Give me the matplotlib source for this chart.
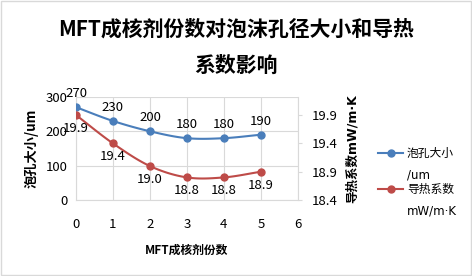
import numpy as np
import matplotlib
matplotlib.use("Agg")
import matplotlib.pyplot as plt
from matplotlib.lines import Line2D

plt.rcParams['font.family'] = ['Noto Sans CJK SC', 'DejaVu Sans']

# data
parts = [0, 1, 2, 3, 4, 5]
pore_size = [270, 230, 200, 180, 180, 190]
conductivity = [19.9, 19.4, 19.0, 18.8, 18.8, 18.9]
pore_labels = ["270", "230", "200", "180", "180", "190"]
cond_labels = ["19.9", "19.4", "19.0", "18.8", "18.8", "18.9"]
series_names = [("泡孔大小", "/um"), ("导热系数", "mW/m·K")]

blue = "#4a7ebb"
red = "#be4b48"
grid = "#d9d9d9"
latin_first = ['DejaVu Sans', 'Noto Sans CJK SC']


def smooth(x, y, n=20):
    # Catmull-Rom curve through the points (like Excel smoothed line)
    x = np.asarray(x, float)
    y = np.asarray(y, float)
    px = np.concatenate([[2 * x[0] - x[1]], x, [2 * x[-1] - x[-2]]])
    py = np.concatenate([[2 * y[0] - y[1]], y, [2 * y[-1] - y[-2]]])
    xs, ys = [], []
    t = np.linspace(0, 1, n)
    for i in range(1, len(px) - 2):
        for p, out in ((px, xs), (py, ys)):
            p0, p1, p2, p3 = p[i - 1], p[i], p[i + 1], p[i + 2]
            out.extend(0.5 * ((2 * p1) + (-p0 + p2) * t
                              + (2 * p0 - 5 * p1 + 4 * p2 - p3) * t ** 2
                              + (-p0 + 3 * p1 - 3 * p2 + p3) * t ** 3))
    return xs, ys


fig = plt.figure(figsize=(4.72, 2.76), dpi=100)
fig.patches.append(plt.Rectangle((0.002, 0.004), 0.995, 0.992, transform=fig.transFigure,
                                 fill=False, edgecolor="#d9d9d9", lw=1))

ax = fig.add_axes([0.161, 0.275, 0.470, 0.374])
ax2 = ax.twinx()

sx, sy = smooth(parts, pore_size)
ax.plot(sx, sy, color=blue, lw=1.5, zorder=3)
ax.plot(parts, pore_size, "o", color=blue, ms=5, zorder=4)
for x, y, s in zip(parts, pore_size, pore_labels):
    ax.annotate(s, (x, y), xytext=(0, 5), textcoords="offset points",
                ha="center", va="bottom", fontsize=9.5)

sx, sy = smooth(parts, conductivity)
ax2.plot(sx, sy, color=red, lw=1.5, zorder=3)
ax2.plot(parts, conductivity, "o", color=red, ms=5, zorder=4)
for x, y, s in zip(parts, conductivity, cond_labels):
    ax2.annotate(s, (x, y), xytext=(0, -5), textcoords="offset points",
                 ha="center", va="top", fontsize=9.5)

ax.set_xlim(0, 6)
ax.set_ylim(0, 300)
ax.set_xticks(range(7))
ax.set_yticks([0, 100, 200, 300])
ax2.set_ylim(18.4, 20.22)
ax2.set_yticks([18.4, 18.9, 19.4, 19.9])

ax.grid(True, color=grid, lw=0.8)
ax.set_axisbelow(True)
for a in (ax, ax2):
    a.spines["top"].set_visible(False)
    for side in ("left", "bottom", "right"):
        a.spines[side].set_color(grid)
ax.spines["right"].set_visible(False)
ax2.spines["left"].set_visible(False)
ax2.spines["bottom"].set_visible(False)

ax.tick_params(axis="x", length=0, pad=13, labelsize=9.5)
ax.tick_params(axis="y", length=0, pad=6, labelsize=9.5)
ax2.tick_params(axis="y", length=3, color=grid, pad=7, labelsize=9.5)

ax.set_xlabel("MFT成核剂份数", fontsize=8.5, fontweight="bold", labelpad=9)
ax.set_ylabel("泡孔大小/um", fontsize=9.5, fontweight="bold", labelpad=5)
ax2.set_ylabel("导热系数mW/m·K", fontsize=9, fontweight="bold", labelpad=6,
               family=latin_first)

fig.text(0.5, 0.895, "MFT成核剂份数对泡沫孔径大小和导热", ha="center", va="center",
         fontsize=15, fontweight="bold")
fig.text(0.5, 0.765, "系数影响", ha="center", va="center",
         fontsize=15, fontweight="bold")

# legend, drawn by hand so the two-line labels sit like Excel's
x0, x1 = 378 / 472, 403 / 472
for (first, second), color, ytop in zip(series_names, [blue, red], [153, 189]):
    y = 1 - ytop / 276
    fig.add_artist(Line2D([x0, x1], [y, y], transform=fig.transFigure,
                          color=color, lw=1.5, marker="o", markevery=[0], ms=0))
    fig.add_artist(Line2D([(x0 + x1) / 2], [y], transform=fig.transFigure,
                          color=color, marker="o", ms=5, lw=0))
    fig.text(x1 + 0.008, y, first, ha="left", va="center", fontsize=8.5,
             family=latin_first)
    fig.text(x1 + 0.008, y - 22 / 276, second, ha="left", va="center", fontsize=8.5,
             family=latin_first)

fig.savefig("out.png", dpi=100)
